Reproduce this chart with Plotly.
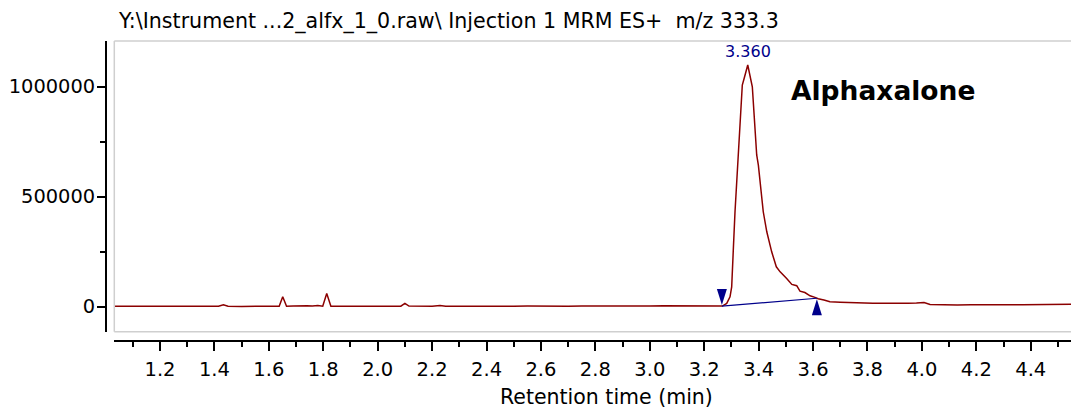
import plotly.graph_objects as go

# MRM chromatogram, m/z 333.3 (retention time in minutes, intensity in counts)
rt_min = [
    1.032, 1.08, 1.13, 1.18, 1.23, 1.28, 1.33, 1.38, 1.415, 1.433, 1.45,
    1.50, 1.55, 1.60, 1.638, 1.651, 1.665, 1.69, 1.72, 1.74, 1.76, 1.78,
    1.798, 1.8127, 1.828, 1.86, 1.90, 1.95, 2.00, 2.05, 2.085, 2.100, 2.115,
    2.15, 2.20, 2.229, 2.25, 2.30, 2.35, 2.40, 2.45, 2.50, 2.55, 2.60, 2.65,
    2.70, 2.75, 2.80, 2.85, 2.90, 2.95, 3.00, 3.05, 3.10, 3.15, 3.20, 3.24,
    3.2665, 3.2827, 3.2948, 3.301, 3.3047, 3.3069, 3.3132, 3.3194, 3.3267,
    3.3341, 3.340, 3.3462, 3.360, 3.3768, 3.3842, 3.3929, 3.399, 3.417,
    3.430, 3.448, 3.465, 3.479, 3.503, 3.522, 3.540, 3.552, 3.570, 3.589,
    3.607, 3.619, 3.64, 3.662, 3.70, 3.736, 3.78, 3.82, 3.86, 3.90, 3.95,
    3.98, 4.008, 4.03, 4.08, 4.13, 4.18, 4.22, 4.27, 4.32, 4.37, 4.42, 4.47,
    4.52, 4.548,
]
intensity = [
    1500, 1200, 1400, 1000, 1300, 1100, 1500, 1200, 1300, 8000, 1500,
    1000, 1200, 1300, 1400, 45000, 2000, 2500, 5000, 4000, 2500, 4500,
    2000, 60000, 2000, 1500, 2000, 1200, 1500, 1800, 2000, 14500, 2500,
    1500, 2000, 4500, 2200, 2000, 1500, 2500, 1800, 2200, 3000, 2000, 2800,
    2200, 3000, 2500, 3200, 2600, 3000, 2400, 3500, 2800, 3200, 2500, 2000,
    2300, 14500, 44500, 90000, 166000, 257000, 431000, 567000, 765000,
    916000, 1007000, 1034000, 1098000, 999000, 840000, 689000, 643000, 431000,
    340000, 249000, 181000, 158000, 128000, 101000, 95000, 70000, 64000, 49000,
    42000, 36000, 30000, 22000, 20000, 18000, 16000, 15000, 15500, 14500, 15000,
    16000, 19000, 10000, 8000, 7500, 9000, 8000, 9500, 8500, 9000, 10000, 11500,
    12000, 11000,
]

# Integrated peak: apex and baseline start/end points
apex_rt = 3.360
apex_height = 1098000
base_rt = [3.265, 3.614]
base_height = [2300, 38000]

compound = "Alphaxalone"
header = "Y:\\Instrument ...2_alfx_1_0.raw\\ Injection 1 MRM ES+\u00a0 m/z 333.3"

x_tick_vals = [1.2, 1.4, 1.6, 1.8, 2.0, 2.2, 2.4, 2.6, 2.8, 3.0, 3.2, 3.4,
               3.6, 3.8, 4.0, 4.2, 4.4]
y_tick_vals = [0, 500000, 1000000]

TRACE = "#8b0000"
NAVY = "#00008b"
FONT = "DejaVu Sans"

W, H = 1071, 408
ML, MR, MT, MB = 106, 0, 41, 67
PW, PH = W - ML - MR, H - MT - MB


def px_x(px):
    return (px - ML) / PW


def px_y(py):
    return (H - MB - py) / PH


fig = go.Figure()

fig.add_trace(go.Scatter(
    x=rt_min, y=intensity, mode="lines",
    line=dict(color=TRACE, width=1.5), hoverinfo="skip", showlegend=False,
))

fig.add_trace(go.Scatter(
    x=base_rt, y=base_height, mode="lines",
    line=dict(color=NAVY, width=1.2), hoverinfo="skip", showlegend=False,
))

# Start/end markers of the integration
fig.add_shape(type="path", xref="x", yref="y", xsizemode="pixel", ysizemode="pixel",
              xanchor=base_rt[0], yanchor=base_height[0],
              path="M-5,17 L5,17 L0,1 Z", fillcolor=NAVY, line=dict(width=0))
fig.add_shape(type="path", xref="x", yref="y", xsizemode="pixel", ysizemode="pixel",
              xanchor=base_rt[1], yanchor=base_height[1],
              path="M-5,-17 L5,-17 L0,-1 Z", fillcolor=NAVY, line=dict(width=0))

# Plot frame (open on the right)
frame = dict(color="#cfcfcf", width=1.5)
fig.add_shape(type="line", xref="x domain", yref="y domain", x0=0, x1=1.01, y0=1, y1=1, line=frame)
fig.add_shape(type="line", xref="x domain", yref="y domain", x0=0, x1=0, y0=0, y1=1, line=frame)
fig.add_shape(type="line", xref="x domain", yref="y domain", x0=0, x1=1.01, y0=0, y1=0, line=frame)

fig.add_annotation(x=apex_rt, y=apex_height, text=f"{apex_rt:.3f}", showarrow=False,
                   yshift=13, font=dict(family=FONT, size=16, color=NAVY))
fig.add_annotation(x=3.513, y=980000, text=f"<b>{compound}</b>", showarrow=False,
                   xanchor="left", yanchor="middle",
                   font=dict(family=FONT, size=26.5, color="black"))
fig.add_annotation(xref="paper", yref="paper", x=px_x(116), y=px_y(21), text=header,
                   showarrow=False, xanchor="left", yanchor="middle",
                   font=dict(family=FONT, size=20.6, color="black"))
fig.add_annotation(xref="paper", yref="paper", x=px_x(606), y=px_y(396.5),
                   text="Retention time (min)", showarrow=False,
                   xanchor="center", yanchor="middle", borderpad=0,
                   font=dict(family=FONT, size=20.5, color="black"))

fig.update_layout(
    width=W, height=H,
    margin=dict(l=ML, r=MR, t=MT, b=MB, pad=0),
    paper_bgcolor="white", plot_bgcolor="white",
    font=dict(family=FONT, size=19.5, color="black"),
    xaxis=dict(
        domain=[px_x(114.3), 1], anchor="free", position=0,
        range=[1.032, 4.548], showgrid=False, zeroline=False,
        showline=True, linecolor="black", linewidth=2,
        tickmode="array", tickvals=x_tick_vals, tickformat=".1f",
        ticks="outside", ticklen=9, tickwidth=1.5, tickcolor="black",
        ticklabelstandoff=2, tickfont=dict(size=19.5),
        minor=dict(dtick=0.1, tick0=1.0, ticks="outside", ticklen=5,
                   tickwidth=1.5, tickcolor="black", showgrid=False),
    ),
    yaxis=dict(
        domain=[px_y(331.7), 1], anchor="free", position=0,
        range=[-114000, 1207000], showgrid=False, zeroline=False,
        showline=True, linecolor="black", linewidth=2,
        tickmode="array", tickvals=y_tick_vals, tickformat="d",
        ticks="outside", ticklen=8, tickwidth=1.5, tickcolor="black",
        ticklabelstandoff=-2, tickfont=dict(size=19.4),
        minor=dict(dtick=250000, tick0=0, ticks="outside", ticklen=5,
                   tickwidth=1.5, tickcolor="black", showgrid=False),
    ),
)

fig.write_html("out.html")
